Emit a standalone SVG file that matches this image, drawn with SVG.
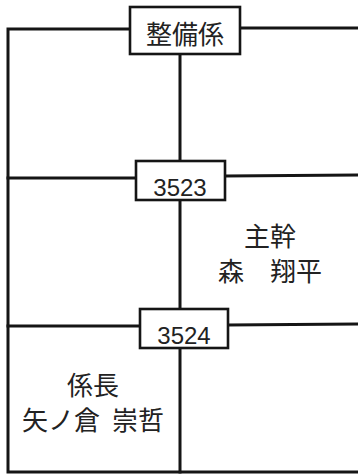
<svg xmlns="http://www.w3.org/2000/svg" width="358" height="474" viewBox="0 0 358 474">
<style>
.ln{stroke:#151515;stroke-width:3;fill:none;stroke-linecap:square}
.bx{fill:#fff;stroke:#151515;stroke-width:2.6}
.jp{font-family:"Noto Sans CJK JP","Noto Sans CJK SC",sans-serif;font-size:26px;fill:#222}
.num{font-family:"Liberation Sans",Arial,sans-serif;font-size:24px;fill:#222;text-anchor:middle}
</style>
<rect width="358" height="474" fill="#fff"/>
<g id="connectors">
<polyline class="ln" points="130,29 8,29 8,472 358,472"/>
<line class="ln" x1="240" y1="28" x2="358" y2="28"/>
<line class="ln" x1="180" y1="54" x2="180" y2="472"/>
<line class="ln" x1="8" y1="178" x2="136" y2="178"/>
<line class="ln" x1="225" y1="176" x2="358" y2="175"/>
<line class="ln" x1="8" y1="326" x2="140" y2="326"/>
<line class="ln" x1="228" y1="325" x2="358" y2="324"/>
</g>
<g id="seibigakari">
<rect class="bx" x="130" y="7" width="110" height="47"/>
<text class="jp" x="185" y="44" text-anchor="middle">整備係</text>
</g>
<g id="room3523">
<rect class="bx" x="136" y="161" width="89" height="39"/>
<text class="num" x="180" y="196">3523</text>
</g>
<g id="room3524">
<rect class="bx" x="140" y="309" width="88" height="39"/>
<text class="num" x="184" y="344">3524</text>
</g>
<g id="shukan">
<text class="jp" text-anchor="middle"><tspan x="270" y="246">主幹</tspan><tspan x="270" y="281">森　翔平</tspan></text>
</g>
<g id="kakaricho">
<text class="jp"><tspan x="93" y="395" text-anchor="middle">係長</tspan><tspan x="22" y="430">矢ノ倉</tspan><tspan x="112" y="430">崇哲</tspan></text>
</g>
</svg>
